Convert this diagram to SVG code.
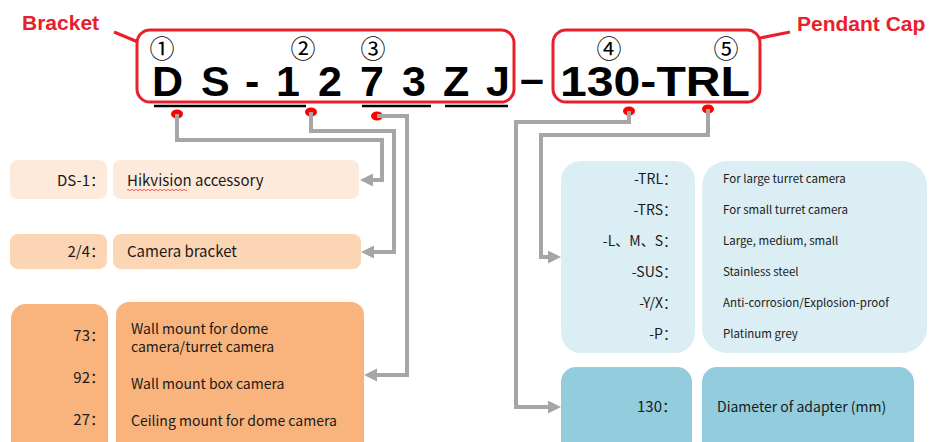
<svg xmlns="http://www.w3.org/2000/svg" width="930" height="442" viewBox="0 0 930 442">
<style>
.lbl{font-family:"Noto Sans CJK SC","Noto Sans",sans-serif;fill:#1a1a1a}
.big{font-family:"Liberation Sans",Arial,sans-serif;font-weight:bold;font-size:43px;fill:#000}
.red{font-family:"Liberation Sans",Arial,sans-serif;font-weight:bold;font-size:21px;fill:#E8202A}
.circ{font-family:"Noto Sans CJK SC",sans-serif;font-size:25px;fill:#000;text-anchor:middle}
.frame{fill:none;stroke:#E8202A;stroke-width:3}
.conn{fill:none;stroke:#A6A6A6;stroke-width:4}
.dot{fill:#FF0000}
.ul{stroke:#000;stroke-width:2.5}
</style>
<defs>
<marker id="arr" markerUnits="userSpaceOnUse" markerWidth="14" markerHeight="14" refX="0" refY="6.5" orient="auto">
<path d="M0,0 L13,6.5 L0,13 z" fill="#A6A6A6"/>
</marker>
</defs>

<g id="title">
<text class="red" x="22" y="30">Bracket</text>
<line x1="114" y1="32" x2="138" y2="42" stroke="#E8202A" stroke-width="3"/>
<rect class="frame" x="137" y="30" width="377" height="72" rx="13"/>
<text class="red" x="797" y="31">Pendant Cap</text>
<line x1="760" y1="38" x2="790" y2="32" stroke="#E8202A" stroke-width="3"/>
<rect class="frame" x="553" y="30" width="207" height="72" rx="13"/>
<text class="circ" x="162" y="58">①</text>
<text class="circ" x="303" y="58">②</text>
<text class="circ" x="373" y="58">③</text>
<text class="circ" x="609" y="58">④</text>
<text class="circ" x="726" y="58">⑤</text>
<text class="big" x="152 188 201 231 245 263 276 299 318 346 360 384 402 431 443 468 486" y="96">D S - 1 2 7 3 Z J</text>
<text class="big" x="520" y="93">–</text>
<text class="big" x="560" y="96" textLength="190" lengthAdjust="spacingAndGlyphs">130-TRL</text>
<line class="ul" x1="154" y1="106" x2="306" y2="106"/>
<line class="ul" x1="362" y1="106" x2="431" y2="106"/>
<line class="ul" x1="445" y1="106" x2="508" y2="106"/>
<ellipse class="dot" cx="177" cy="114" rx="6" ry="4.5"/>
<ellipse class="dot" cx="311" cy="112" rx="6" ry="4.5"/>
<ellipse class="dot" cx="377" cy="116" rx="6" ry="4.5"/>
<ellipse class="dot" cx="629" cy="111" rx="6" ry="4.5"/>
<ellipse class="dot" cx="708" cy="109" rx="6" ry="4.5"/>
</g>

<g id="connectors">
<path class="conn" d="M177,114 V140 H382 V180 H373" marker-end="url(#arr)"/>
<path class="conn" d="M311,112 V131 H394 V252 H374" marker-end="url(#arr)"/>
<path class="conn" d="M377,116 H407 V375 H377" marker-end="url(#arr)"/>
<path class="conn" d="M629,111 V122 H516 V407 H548" marker-end="url(#arr)"/>
<path class="conn" d="M708,109 V135 H541 V257 H548" marker-end="url(#arr)"/>
</g>

<g id="node-ds1">
<rect x="10" y="160" width="97" height="39" rx="8" fill="#FDEADA"/>
<rect x="113" y="160" width="246" height="39" rx="8" fill="#FDEADA"/>
<text class="lbl" x="105" y="186" font-size="15" text-anchor="end">DS-1：</text>
<text class="lbl" x="127" y="186" font-size="15">Hikvision accessory</text>
<path d="M127,190 q1,-1.5 2,0 t2,0 t2,0 t2,0 t2,0 t2,0 t2,0 t2,0 t2,0 t2,0 t2,0 t2,0 t2,0 t2,0 t2,0 t2,0 t2,0 t2,0 t2,0 t2,0 t2,0 t2,0 t2,0 t2,0 t2,0 t2,0 t2,0 t2,0 t2,0 t2,0" fill="none" stroke="#E8202A" stroke-width="0.7"/>
</g>

<g id="node-24">
<rect x="10" y="234" width="97" height="35" rx="8" fill="#FCD5B5"/>
<rect x="113" y="234" width="248" height="35" rx="8" fill="#FCD5B5"/>
<text class="lbl" x="105" y="257" font-size="15" text-anchor="end">2/4：</text>
<text class="lbl" x="127" y="257" font-size="15">Camera bracket</text>
</g>

<g id="node-73">
<rect x="11" y="304" width="97" height="160" rx="15" fill="#F8B47C"/>
<rect x="116" y="302" width="248" height="160" rx="13" fill="#F8B47C"/>
<text class="lbl" x="105" y="341" font-size="15" text-anchor="end">73：</text>
<text class="lbl" x="105" y="383" font-size="15" text-anchor="end">92：</text>
<text class="lbl" x="105" y="425" font-size="15" text-anchor="end">27：</text>
<text class="lbl" x="131" y="334" font-size="14">Wall mount for dome</text>
<text class="lbl" x="131" y="352" font-size="14">camera/turret camera</text>
<text class="lbl" x="131" y="389" font-size="14">Wall mount box camera</text>
<text class="lbl" x="131" y="426" font-size="14">Ceiling mount for dome camera</text>
</g>

<g id="node-trl">
<rect x="561" y="161" width="134" height="192" rx="20" fill="#DBEEF4"/>
<rect x="702" y="161" width="225" height="192" rx="25" fill="#DBEEF4"/>
<g class="lbl" font-size="14" text-anchor="end">
<text x="677" y="184">-TRL：</text>
<text x="677" y="215">-TRS：</text>
<text x="677" y="246">-L、M、S：</text>
<text x="677" y="277">-SUS：</text>
<text x="677" y="308">-Y/X：</text>
<text x="677" y="339">-P：</text>
</g>
<g class="lbl" font-size="11.5">
<text x="723" y="183">For large turret camera</text>
<text x="723" y="214">For small turret camera</text>
<text x="723" y="245">Large, medium, small</text>
<text x="723" y="276">Stainless steel</text>
<text x="723" y="307">Anti-corrosion/Explosion-proof</text>
<text x="723" y="338">Platinum grey</text>
</g>
</g>

<g id="node-130">
<rect x="561" y="367" width="131" height="100" rx="15" fill="#93CDDD"/>
<rect x="702" y="367" width="212" height="100" rx="15" fill="#93CDDD"/>
<text class="lbl" x="677" y="412" font-size="15" text-anchor="end">130：</text>
<text class="lbl" x="717" y="412" font-size="14">Diameter of adapter (mm)</text>
</g>
</svg>
